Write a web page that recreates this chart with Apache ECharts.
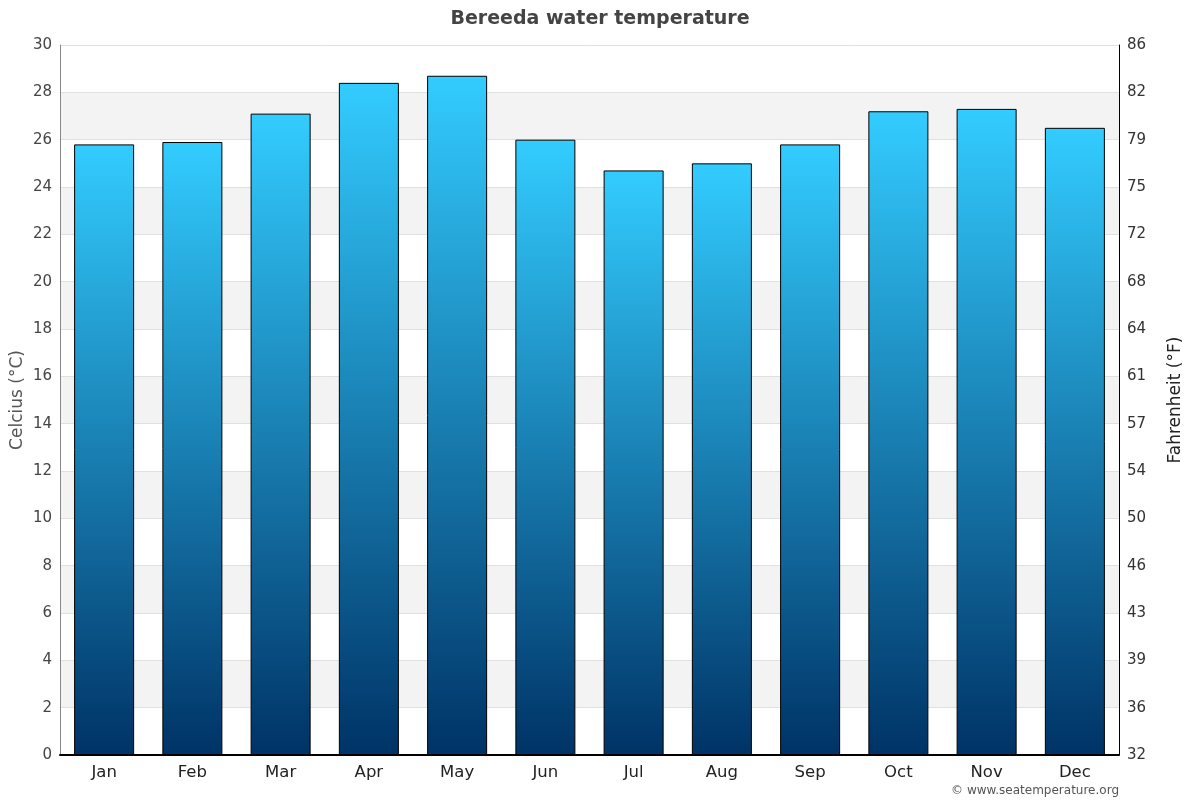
<!DOCTYPE html>
<html>
<head>
<meta charset="utf-8">
<script src="https://cdn.jsdelivr.net/npm/echarts@6/dist/echarts.min.js"></script>
<style>
  html, body { margin: 0; padding: 0; background: #fff; }
  #chart { width: 1200px; height: 800px; }
</style>
</head>
<body>
<div id="chart"></div>
<script>
const months = ["Jan", "Feb", "Mar", "Apr", "May", "Jun", "Jul", "Aug", "Sep", "Oct", "Nov", "Dec"];
const waterTempC = [25.8, 25.9, 27.1, 28.4, 28.7, 26.0, 24.7, 25.0, 25.8, 27.2, 27.3, 26.5];

const font = "DejaVu Sans";
const toF = (c) => Math.round(c * 9 / 5 + 32);

const chart = echarts.init(document.getElementById("chart"), null, { renderer: "canvas" });

chart.setOption({
  animation: false,
  textStyle: { fontFamily: font },
  title: {
    text: "Bereeda water temperature",
    left: "center",
    top: 5,
    textStyle: { fontFamily: font, fontSize: 19, fontWeight: "bold", color: "#444" }
  },
  graphic: [{
    type: "text",
    right: 81,
    top: 785,
    style: { text: "© www.seatemperature.org", fontFamily: font, fontSize: 12, fill: "#555" }
  }],
  grid: { left: 60, right: 81, top: 45, bottom: 45, containLabel: false, outerBoundsMode: "none" },
  xAxis: {
    type: "category",
    data: months,
    axisLine: { show: true, lineStyle: { color: "#000", width: 2 } },
    axisTick: { show: false },
    axisLabel: { color: "#222", fontSize: 16.5, margin: 9, fontFamily: font }
  },
  yAxis: [
    {
      type: "value",
      min: 0, max: 30, interval: 2,
      name: "Celcius (°C)",
      nameLocation: "middle",
      nameGap: 34,
      nameMoveOverlap: false,
      nameTextStyle: { color: "#555", fontSize: 17, fontFamily: font },
      axisLine: { show: true, lineStyle: { color: "#888", width: 1 } },
      axisTick: { show: false },
      axisLabel: { color: "#444", fontSize: 15, margin: 8, fontFamily: font },
      splitLine: { show: true, lineStyle: { color: "#e0e0e0", width: 1 } },
      splitArea: { show: true, areaStyle: { color: ["#ffffff", "#f3f3f3"] } }
    },
    {
      type: "value",
      min: 0, max: 30, interval: 2,
      position: "right",
      name: "Fahrenheit (°F)",
      nameLocation: "middle",
      nameGap: 48,
      nameMoveOverlap: false,
      nameRotate: 90,
      nameTextStyle: { color: "#222", fontSize: 17, fontFamily: font },
      axisLine: { show: true, lineStyle: { color: "#000", width: 1 } },
      axisTick: { show: false },
      axisLabel: { color: "#333", fontSize: 15, margin: 8, fontFamily: font, formatter: (v) => String(toF(v)) },
      splitLine: { show: false },
      splitArea: { show: false }
    }
  ],
  series: [{
    type: "bar",
    data: waterTempC,
    barWidth: "68%",
    itemStyle: {
      borderColor: "#000",
      borderWidth: 1,
      color: new echarts.graphic.LinearGradient(0, 0, 0, 1, [
        { offset: 0, color: "#33ccff" },
        { offset: 1, color: "#003366" }
      ])
    }
  }]
});
</script>
</body>
</html>
